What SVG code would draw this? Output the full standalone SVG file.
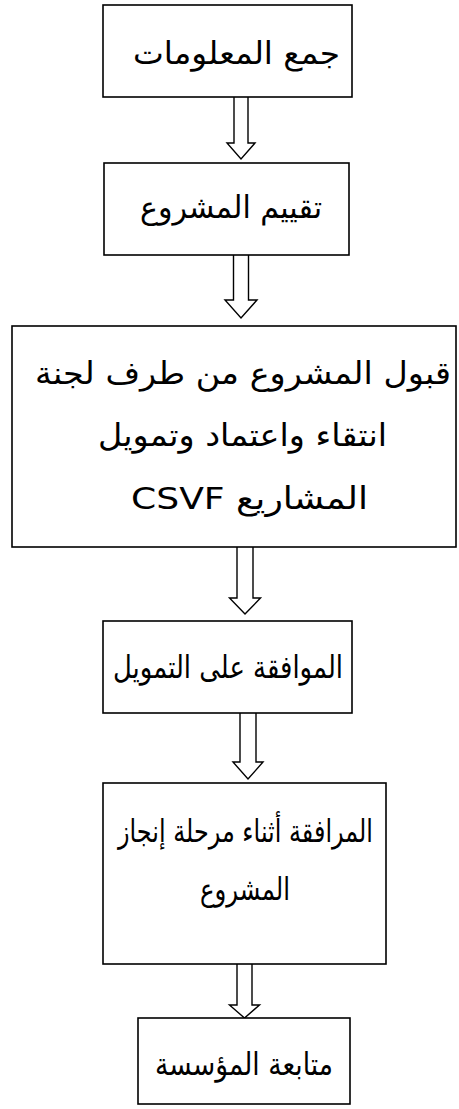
<svg xmlns="http://www.w3.org/2000/svg" width="459" height="1109" viewBox="0 0 459 1109">
<style>
.box{fill:#fff;stroke:#000;stroke-width:1.6}
.arr{fill:#fff;stroke:#000;stroke-width:1.4;stroke-linejoin:miter}
.t{font-family:"DejaVu Sans","Liberation Sans",sans-serif;font-size:31px;fill:#000;text-anchor:middle}
</style>
<rect width="459" height="1109" fill="#fff"/>
<g id="connectors">
<path class="arr" d="M234,97 V143 H227 L241,159 L255,143 H248 V97"/>
<path class="arr" d="M233.5,255 V300 H225 L241,318 L257,300 H248.5 V255"/>
<path class="arr" d="M237,547 V598 H229.5 L245,614 L260.5,598 H253 V547"/>
<path class="arr" d="M240,713 V762 H233 L248,779 L263,762 H256 V713"/>
<path class="arr" d="M237,964 V1005 H229.5 L244.5,1018 L259.5,1005 H252 V964"/>
</g>
<g id="n1">
<rect class="box" x="103" y="5" width="249" height="92"/>
<text class="t" x="236.5" y="64" direction="rtl" textLength="207" lengthAdjust="spacingAndGlyphs">جمع المعلومات</text>
</g>
<g id="n2">
<rect class="box" x="104" y="163" width="245" height="92"/>
<text class="t" x="231" y="218" direction="rtl" textLength="182" lengthAdjust="spacingAndGlyphs">تقييم المشروع</text>
</g>
<g id="n3">
<rect class="box" x="12" y="326" width="444" height="221"/>
<text class="t" x="243" y="384" direction="rtl" textLength="416" lengthAdjust="spacingAndGlyphs">قبول المشروع من طرف لجنة</text>
<text class="t" x="242.5" y="446" direction="rtl" textLength="289" lengthAdjust="spacingAndGlyphs">انتقاء واعتماد وتمويل</text>
<text class="t" x="249.5" y="509" direction="rtl" textLength="237" lengthAdjust="spacingAndGlyphs">المشاريع CSVF</text>
</g>
<g id="n4">
<rect class="box" x="103" y="621" width="249" height="92"/>
<text class="t" x="228" y="678" direction="rtl" textLength="230" lengthAdjust="spacingAndGlyphs">الموافقة على التمويل</text>
</g>
<g id="n5">
<rect class="box" x="103" y="783" width="283" height="181"/>
<text class="t" x="245.5" y="842" direction="rtl" textLength="255" lengthAdjust="spacingAndGlyphs">المرافقة أثناء مرحلة إنجاز</text>
<text class="t" x="245" y="900" direction="rtl" textLength="90" lengthAdjust="spacingAndGlyphs">المشروع</text>
</g>
<g id="n6">
<rect class="box" x="138" y="1018" width="212" height="86"/>
<text class="t" x="244" y="1075" direction="rtl" textLength="178" lengthAdjust="spacingAndGlyphs">متابعة المؤسسة</text>
</g>
</svg>
